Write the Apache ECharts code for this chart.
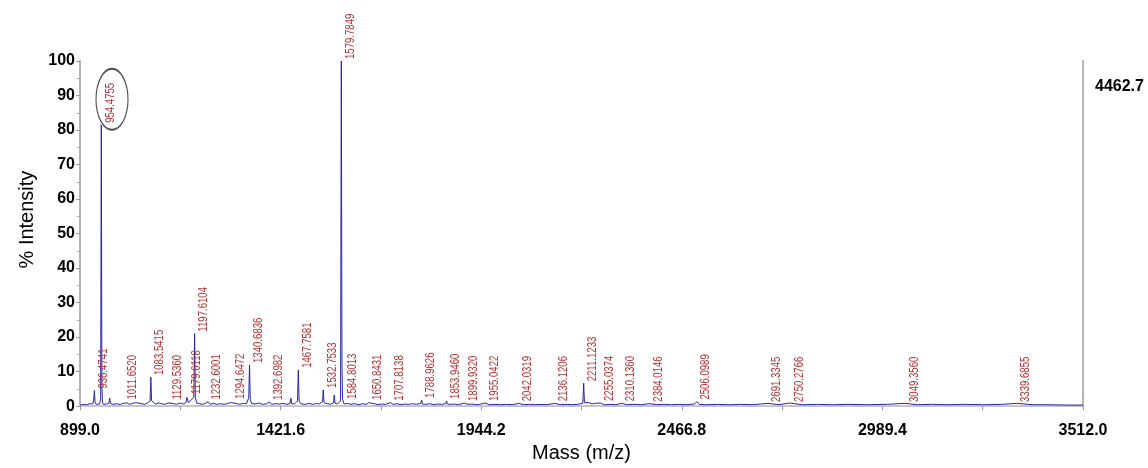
<!DOCTYPE html>
<html>
<head>
<meta charset="utf-8">
<script src="https://cdn.jsdelivr.net/npm/echarts@6/dist/echarts.min.js"></script>
<style>
  html, body { margin: 0; padding: 0; background: #ffffff; }
  #chart { width: 1148px; height: 468px; }
</style>
</head>
<body>
<div id="chart"></div>
<script>
// ---- Data ----
// Tick labels of the mass axis
var massTicks = [899.0, 1421.6, 1944.2, 2466.8, 2989.4, 3512.0];
var massMinorTicks = [1160.3, 1682.9, 2205.5, 2728.1, 3250.7];
// Right-hand absolute intensity of the base peak
var baseIntensity = '4462.7';

// Spectrum trace: [m/z, % intensity]
var spectrum = [
  [899,0.3],[910,0.5],[918,0.4],[925,0.7],[932,0.6],[934.5,1.5],[936.5,4.5],[938,1.2],[941,0.5],[946,0.8],
  [950,0.6],[952.8,2],[954.5,81.5],[956,6],[957.5,1.2],[960,0.5],[968,0.6],[974,0.8],[976.5,2.3],[978.5,0.8],
  [985,0.5],[995,0.7],[1003,0.4],[1010,0.8],[1011.7,1.3],[1013.5,0.6],[1022,0.9],[1028,0.5],[1036,0.8],[1045,1.0],
  [1050,0.6],[1060,0.7],[1068,0.5],[1075,0.9],[1081.5,1.5],[1083.5,8.4],[1085.5,1.6],[1090,1.2],[1095,0.6],[1104,0.9],
  [1112,0.7],[1120,0.5],[1128,0.9],[1129.5,1.3],[1131,0.6],[1140,0.8],[1150,0.5],[1160,0.9],[1168,0.6],[1175,1.0],
  [1177.5,2.5],[1179.6,2.9],[1181.5,1.0],[1185,0.7],[1195.5,2.5],[1197.6,21],[1199.5,2.5],[1203,0.9],[1210,0.7],[1218,0.5],
  [1226,0.8],[1232.6,1.3],[1238,0.5],[1246,0.8],[1255,0.5],[1265,0.7],[1275,0.5],[1285,0.8],[1292,1.0],[1294.6,1.5],
  [1297,0.6],[1305,0.8],[1315,0.5],[1325,0.8],[1333,0.7],[1338.6,2.5],[1340.7,11.9],[1342.5,2.0],[1346,0.8],[1355,0.6],
  [1365,0.9],[1375,0.5],[1385,0.7],[1392.7,1.2],[1398,0.5],[1408,0.7],[1418,0.6],[1428,0.8],[1438,0.5],[1446,0.8],
  [1448.5,2.3],[1450.5,0.7],[1458,0.6],[1465.7,1.5],[1467.8,10.5],[1469.8,1.5],[1474,0.7],[1485,0.5],[1495,0.8],[1505,0.5],
  [1515,0.8],[1522,0.6],[1530.7,1.2],[1532.8,4.7],[1534.8,1.0],[1540,0.7],[1550,0.5],[1559.3,0.9],[1561.4,3.2],[1563.4,0.8],
  [1570,0.6],[1577.8,1.5],[1579.8,100],[1581.5,12],[1583,2],[1584.8,1.5],[1587,0.6],[1595,0.8],[1605,0.5],[1615,0.7],
  [1625,0.4],[1635,0.7],[1645,0.5],[1650.8,1.0],[1656,0.5],[1665,0.7],[1675,0.4],[1685,0.6],[1695,0.5],[1707.8,1.0],
  [1715,0.5],[1725,0.7],[1735,0.4],[1745,0.6],[1755,0.5],[1765,0.7],[1775,0.5],[1786.9,0.8],[1789,1.8],[1791,0.6],
  [1800,0.5],[1810,0.7],[1820,0.4],[1830,0.6],[1840,0.5],[1852,0.7],[1854,1.5],[1856,0.6],[1865,0.5],[1875,0.6],
  [1885,0.4],[1899.9,0.9],[1910,0.5],[1920,0.6],[1930,0.4],[1940,0.5],[1955,0.9],[1965,0.4],[1980,0.5],[1995,0.4],
  [2010,0.5],[2025,0.4],[2042,0.8],[2055,0.4],[2070,0.5],[2085,0.4],[2100,0.5],[2115,0.4],[2136.1,0.8],[2150,0.4],
  [2165,0.5],[2180,0.4],[2195,0.5],[2209,0.8],[2211.1,6.6],[2213.2,1.0],[2218,0.7],[2225,1.0],[2232,0.6],[2240,0.8],
  [2255,0.9],[2265,0.4],[2280,0.5],[2295,0.4],[2310.1,0.8],[2325,0.4],[2340,0.5],[2360,0.4],[2384,0.7],[2400,0.4],
  [2420,0.5],[2440,0.4],[2460,0.5],[2480,0.4],[2500,0.6],[2506.1,1.3],[2512,0.5],[2530,0.4],[2560,0.5],[2590,0.4],
  [2620,0.5],[2650,0.4],[2691.3,0.8],[2720,0.4],[2748,0.9],[2752,0.5],[2780,0.4],[2820,0.5],[2860,0.4],[2900,0.5],
  [2950,0.4],[3000,0.5],[3049.4,0.8],[3080,0.4],[3120,0.5],[3160,0.4],[3200,0.5],[3250,0.4],[3300,0.5],[3339.7,0.8],
  [3380,0.4],[3420,0.4],[3470,0.3],[3512,0.3]
];

// Annotated peaks: label text (m/z) and peak-top intensity
var peakLabels = ['936.4741','954.4755','1011.6520','1083.5415','1129.5360','1179.6118','1197.6104','1232.6001',
  '1294.6472','1340.6836','1392.6982','1467.7581','1532.7533','1579.7849','1584.8013','1650.8431','1707.8138',
  '1788.9626','1853.9460','1899.9320','1955.0422','2042.0319','2136.1206','2211.1233','2255.0374','2310.1360',
  '2384.0146','2506.0989','2691.3345','2750.2766','3049.3560','3339.6855'];
var peakTops = [4.5, 81.5, 1.3, 8.4, 1.3, 2.9, 21, 1.3,
  1.5, 11.9, 1.2, 10.5, 4.7, 100, 1.5, 1.2, 1.0,
  1.8, 1.5, 0.9, 0.9, 0.8, 0.8, 6.6, 0.9, 0.8,
  0.7, 1.3, 0.6, 0.6, 0.6, 0.6];

// Highlight ellipse round the 954.4755 label: [m/z, % intensity]
var highlight = [[982.4, 88.9]];

// ---- Build chart ----
var labelData = peakLabels.map(function (t, i) { return [parseFloat(t), peakTops[i]]; });

var axisGray = '#b4b4b4';
var sansFamily = '"Liberation Sans", Arial, sans-serif';
var tickFont = { color: '#000', fontSize: 16, fontWeight: 'bold', fontFamily: sansFamily };

var chart = echarts.init(document.getElementById('chart'), null, { renderer: 'canvas' });
chart.setOption({
  animation: false,
  backgroundColor: '#ffffff',
  title: {
    text: baseIntensity, left: 1095, top: 79, padding: 0,
    textStyle: { color: '#000', fontSize: 16, fontWeight: 'bold', fontFamily: sansFamily }
  },
  grid: { left: 80, right: 65, top: 61, bottom: 60 },
  xAxis: {
    type: 'value', min: 899, max: 3512,
    name: 'Mass (m/z)', nameLocation: 'middle', nameGap: 28,
    nameTextStyle: { color: '#000', fontSize: 20, fontFamily: sansFamily },
    axisLine: { show: true, lineStyle: { color: axisGray, width: 1.5 } },
    axisTick: { show: true, length: 4, lineStyle: { color: '#999' }, customValues: massTicks.concat(massMinorTicks) },
    axisLabel: Object.assign({ margin: 16, customValues: massTicks, formatter: function (v) { return v.toFixed(1); } }, tickFont),
    splitLine: { show: false }
  },
  yAxis: [{
    type: 'value', min: 0, max: 100, interval: 10, position: 'left',
    name: '% Intensity', nameLocation: 'middle', nameGap: 43,
    nameTextStyle: { color: '#000', fontSize: 20, fontFamily: sansFamily, padding: [0, 0, 0, 28] },
    axisLine: { show: true, lineStyle: { color: axisGray, width: 2 } },
    axisTick: { show: true, length: 4, lineStyle: { color: '#999' } },
    minorTick: { show: true, splitNumber: 2, length: 3, lineStyle: { color: '#aaa' } },
    axisLabel: Object.assign({ margin: 5 }, tickFont),
    splitLine: { show: false }
  }, {
    type: 'value', min: 0, max: 100, position: 'right',
    axisLine: { show: true, lineStyle: { color: axisGray, width: 2 } },
    axisTick: { show: false }, axisLabel: { show: false }, splitLine: { show: false }
  }],
  series: [{
    type: 'line', data: spectrum, showSymbol: false, symbol: 'none',
    lineStyle: { color: '#2626a6', width: 1 }, z: 3
  }, {
    type: 'custom', data: labelData, clip: false, z: 4,
    encode: { x: 0, y: 1 },
    renderItem: function (params, api) {
      var pt = api.coord([api.value(0), api.value(1)]);
      return {
        type: 'text', x: pt[0] + 9, y: pt[1] - 2, rotation: Math.PI / 2, scaleX: 0.8,
        style: {
          text: peakLabels[params.dataIndex], fill: '#b43232', fontSize: 12,
          fontFamily: sansFamily, align: 'left', verticalAlign: 'middle'
        }
      };
    }
  }, {
    type: 'scatter', data: highlight, z: 5,
    symbol: 'path://M0,50 A50,50 0 1,1 100,50 A50,50 0 1,1 0,50 Z',
    symbolSize: [32, 61],
    itemStyle: { color: 'rgba(0,0,0,0)', borderColor: '#222', borderWidth: 1.5 }
  }]
});
</script>
</body>
</html>
